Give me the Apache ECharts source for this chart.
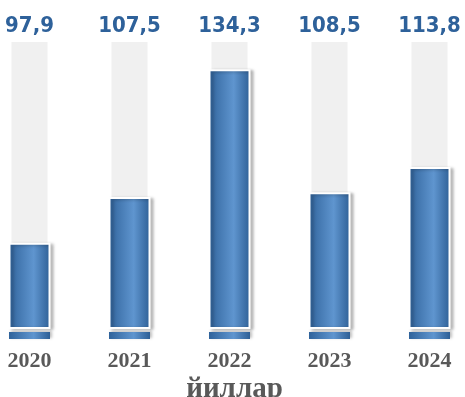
<!DOCTYPE html>
<html>
<head>
<meta charset="utf-8">
<script src="https://cdn.jsdelivr.net/npm/echarts@6/dist/echarts.min.js"></script>
<style>
  html, body { margin: 0; padding: 0; background: #fff; }
  #chart { width: 465px; height: 397px; }
</style>
</head>
<body>
<div id="chart"></div>
<script>
var years = ['2020', '2021', '2022', '2023', '2024'];
var values = [97.9, 107.5, 134.3, 108.5, 113.8];
var bgValues = [140, 140, 140, 140, 140];
var baseValues = [1, 1, 1, 1, 1];

var chart = echarts.init(document.getElementById('chart'));

var blueGrad = new echarts.graphic.LinearGradient(0, 0, 1, 0, [
    { offset: 0, color: '#30639b' },
    { offset: 0.6, color: '#5f95cf' },
    { offset: 1, color: '#2e5f95' }
]);

var option = {
    animation: false,
    grid: [
        { left: 29.5, right: 35.5, top: 42, height: 286, outerBoundsMode: 'none' },
        { left: 29.5, right: 35.5, top: 332, height: 7, outerBoundsMode: 'none' }
    ],
    xAxis: [
        {
            gridIndex: 0, type: 'category', data: years, boundaryGap: false,
            axisLine: { show: false }, axisTick: { show: false },
            axisLabel: {
                margin: 22, color: '#595959', fontSize: 22, fontWeight: 'bold',
                fontFamily: 'Liberation Serif'
            },
            name: 'йиллар', nameLocation: 'middle', nameGap: 47, nameMoveOverlap: false,
            nameTextStyle: {
                color: '#595959', fontSize: 29, fontWeight: 'bold',
                fontFamily: 'Liberation Serif', padding: [0, 0, 0, 10]
            }
        },
        {
            gridIndex: 0, type: 'category', data: years, boundaryGap: false, show: false
        },
        {
            gridIndex: 1, type: 'category', data: years, boundaryGap: false, show: false
        }
    ],
    yAxis: [
        { gridIndex: 0, min: 80, max: 140, show: false },
        { gridIndex: 1, min: 0, max: 1, show: false }
    ],
    series: [
        {
            type: 'bar', xAxisIndex: 1, yAxisIndex: 0, data: bgValues,
            barWidth: 36, silent: true,
            itemStyle: { color: '#f0f0f0' },
            label: {
                show: true, position: 'top', distance: 5,
                color: '#2e619a', fontSize: 22, fontWeight: 'bold',
                fontFamily: '"DejaVu Sans Condensed", sans-serif',
                formatter: function (p) {
                    return values[p.dataIndex].toFixed(1).replace('.', ',');
                }
            }
        },
        {
            type: 'bar', xAxisIndex: 0, yAxisIndex: 0, data: values,
            barWidth: 42,
            itemStyle: {
                color: blueGrad, borderColor: '#fff', borderWidth: 2,
                shadowColor: 'rgba(0,0,0,0.25)', shadowBlur: 3, shadowOffsetX: 3, shadowOffsetY: 1
            }
        },
        {
            type: 'bar', xAxisIndex: 2, yAxisIndex: 1, data: baseValues,
            barWidth: 41,
            itemStyle: {
                color: blueGrad,
                shadowColor: 'rgba(0,0,0,0.25)', shadowBlur: 3, shadowOffsetX: 2, shadowOffsetY: -1
            }
        }
    ]
};
chart.setOption(option);
</script>
</body>
</html>
